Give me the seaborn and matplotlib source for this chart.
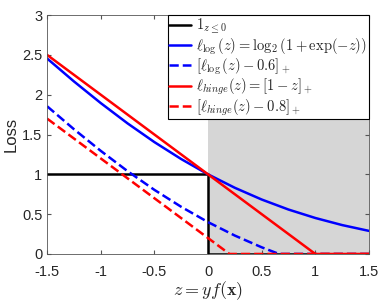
import matplotlib
matplotlib.use("Agg")
import matplotlib.pyplot as plt
import numpy as np
import pandas as pd
import seaborn as sns

# values
z_grid = [-1.5, -1.25, -1.0, -0.75, -0.5, -0.25, 0.0, 0.25, 0.5, 0.75, 1.0, 1.25, 1.5]
log_loss = [2.455, 2.167, 1.895, 1.640, 1.405, 1.192, 1.0, 0.831, 0.684, 0.558, 0.452, 0.363, 0.29]

z_log_shift = [-1.5, -1.25, -1.0, -0.75, -0.5, -0.25, 0.0, 0.25, 0.5, 0.662, 1.0, 1.5]
log_shift = [1.855, 1.567, 1.295, 1.040, 0.805, 0.592, 0.40, 0.231, 0.084, 0.0, 0.0, 0.0]

z_step = [-1.5, 0.0, 0.0, 1.5]
step_loss = [1.0, 1.0, 0.0, 0.0]

z_hinge = [-1.5, 1.0, 1.5]
hinge_loss = [2.5, 0.0, 0.0]

z_hinge_shift = [-1.5, 0.2, 1.5]
hinge_shift = [1.7, 0.0, 0.0]

labels = [r"$\mathbf{1}_{z\leq 0}$",
          r"$\ell_{\log}(z) = \log_2(1+\exp(-z))$",
          r"$[\ell_{\log}(z) - 0.6]_+$",
          r"$\ell_{hinge}(z) = [1-z]_+$",
          r"$[\ell_{hinge}(z) - 0.8]_+$"]

sns.set_style("ticks")
plt.rcParams["font.family"] = ["Liberation Sans", "DejaVu Sans"]
plt.rcParams["mathtext.fontset"] = "cm"

fig = plt.figure(figsize=(3.8, 3.02), dpi=100)
ax = fig.add_axes([0.124, 0.159, 0.847, 0.791])

ax.axvspan(0, 1.5, color="#d6d6d6", lw=0, zorder=0)

series = [
    (z_step, step_loss, "black", "-"),
    (z_grid, log_loss, "blue", "-"),
    (z_log_shift, log_shift, "blue", "--"),
    (z_hinge, hinge_loss, "red", "-"),
    (z_hinge_shift, hinge_shift, "red", "--"),
]
for (x, y, c, ls), lab in zip(series, labels):
    df = pd.DataFrame({"z": x, "loss": y})
    sns.lineplot(data=df, x="z", y="loss", color=c, linestyle=ls, lw=1.8,
                 sort=False, estimator=None, label=lab, ax=ax, zorder=3)

ax.set_xlim(-1.5, 1.5)
ax.set_ylim(0, 3)
ax.set_xticks([-1.5, -1, -0.5, 0, 0.5, 1, 1.5])
ax.set_xticklabels(["-1.5", "-1", "-0.5", "0", "0.5", "1", "1.5"])
ax.set_yticks([0, 0.5, 1, 1.5, 2, 2.5, 3])
ax.set_yticklabels(["0", "0.5", "1", "1.5", "2", "2.5", "3"])
ax.tick_params(direction="in", top=True, right=True, labelsize=10.5,
               color="#555555", length=3, labelcolor="#262626")
ax.tick_params(axis="x", pad=8)
for s in ax.spines.values():
    s.set_color("#555555")
    s.set_linewidth(0.6)
    s.set_zorder(5)

ax.set_xlabel(r"$z = yf(\mathbf{x})$", fontsize=13, labelpad=0)
ax.set_ylabel("Loss", fontsize=12, labelpad=2)

leg = ax.legend(loc="upper right", fontsize=10.5, frameon=True, fancybox=False,
                handlelength=1.5, borderpad=0.12, labelspacing=0.0,
                handletextpad=0.35, borderaxespad=0.0)
leg.get_frame().set_edgecolor("black")
leg.get_frame().set_linewidth(0.8)
leg.get_frame().set_alpha(1)

fig.savefig("out.png", dpi=100)
